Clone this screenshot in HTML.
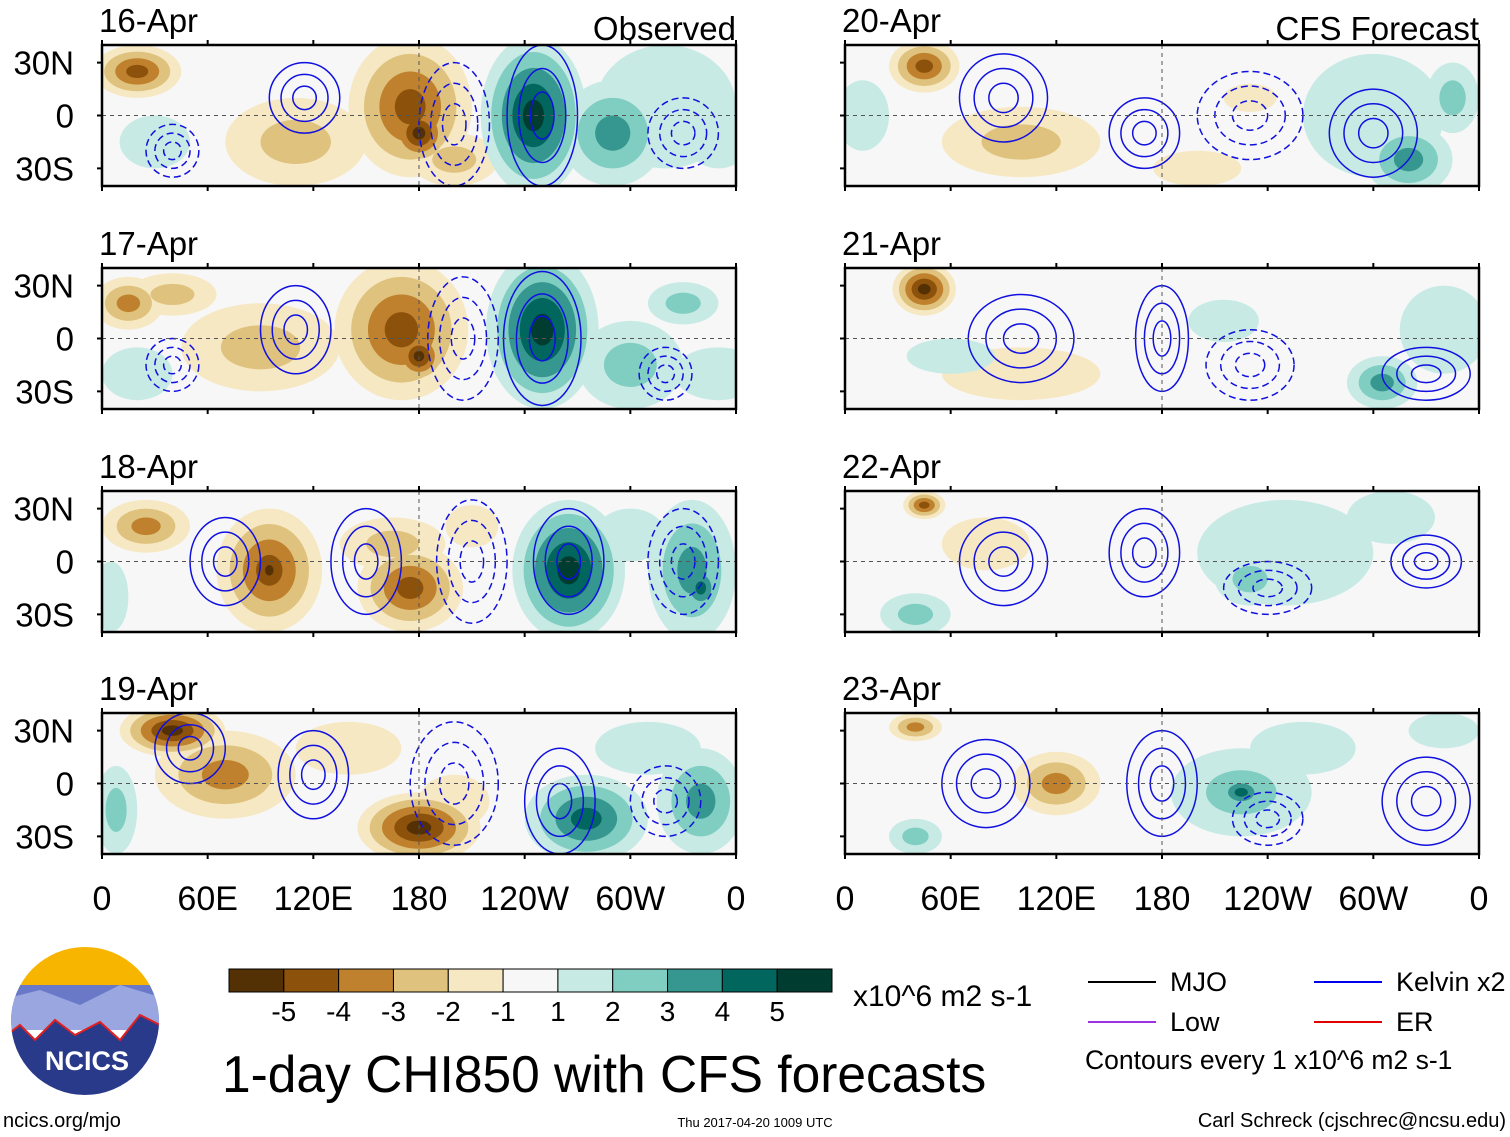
<!DOCTYPE html>
<html><head><meta charset="utf-8">
<style>
body{margin:0;background:#fff;}
svg{display:block;font-family:"Liberation Sans",sans-serif;}
</style></head>
<body>
<svg id="c" width="1510" height="1137" viewBox="0 0 1510 1137">
<g id="panels"></g>
<g id="extras"></g>
</svg>
<script>
const panelTitles = ["16-Apr","17-Apr","18-Apr","19-Apr","20-Apr","21-Apr","22-Apr","23-Apr"];
const lonTicks = ["0","60E","120E","180","120W","60W","0"];
const latTicks = ["30N","0","30S"];
const levelColors = ["#543005","#8c510a","#bf812d","#dfc27d","#f6e8c3","#f7f7f7","#c7eae5","#80cdc1","#35978f","#01665e","#003c30"];
const levelLabels = ["-5","-4","-3","-2","-1","1","2","3","4","5"];
// blobs: [lon, lat, rxDeg, ryDeg, value]
const blobs0 = [[20,25,25,15,-4],[110,-15,40,25,-2],[175,5,35,40,-4],[180,-10,18,18,-5],[200,-25,25,15,-2],[245,0,30,45,5],[290,-10,30,30,3],[320,5,40,35,1],[30,-15,20,15,1],[350,-10,20,20,1]];
const blobs1 = [[15,20,20,15,-3],[40,25,25,12,-2],[90,-5,45,25,-2],[170,5,38,40,-4],[180,-10,15,15,-5],[250,5,32,45,5],[300,-15,30,25,2],[330,20,20,12,2],[20,-20,20,15,1],[350,-20,25,15,1]];
const blobs2 = [[25,20,25,15,-3],[95,-5,30,35,-4],[95,-5,12,15,-5],[175,-15,30,25,-4],[165,10,30,15,-2],[210,20,15,12,-1],[265,-5,32,40,5],[335,-5,25,40,3],[340,-15,12,15,4],[5,-20,10,20,1],[300,15,20,15,1]];
const blobs3 = [[40,30,30,15,-5],[70,5,40,25,-3],[180,-25,35,20,-5],[140,20,30,15,-1],[275,-20,35,25,4],[340,-10,25,30,3],[8,-15,12,25,2],[310,20,30,15,1],[200,-10,20,15,-1]];
const blobs4 = [[45,28,20,15,-4],[100,-15,45,20,-2],[200,-30,25,10,-1],[320,-25,25,20,3],[345,10,15,20,2],[10,0,15,20,1],[230,10,15,8,-1],[300,0,40,35,1]];
const blobs5 = [[45,28,18,15,-5],[100,-20,45,15,-1],[305,-25,20,15,3],[340,5,25,25,1],[215,10,20,12,1],[60,-10,25,10,1]];
const blobs6 = [[45,32,12,8,-4],[80,10,25,15,-1],[250,5,50,30,1],[40,-30,20,12,2],[310,25,25,15,1],[230,-10,20,15,2]];
const blobs7 = [[40,32,15,8,-3],[120,0,25,18,-3],[225,-5,40,25,2],[225,-5,15,10,4],[260,20,30,15,1],[40,-30,15,10,2],[340,30,20,10,1]];
const allBlobs = [blobs0,blobs1,blobs2,blobs3,blobs4,blobs5,blobs6,blobs7];
// contours: [lon, lat, rx, ry, dashed]
const cont0 = [[115,10,20,20,0],[200,-5,20,35,1],[250,0,20,40,0],[330,-10,20,20,1],[40,-20,15,15,1]];
const cont1 = [[110,5,20,25,0],[205,0,20,35,1],[250,0,22,38,0],[320,-20,15,15,1],[40,-15,15,15,1]];
const cont2 = [[70,0,20,25,0],[150,0,20,30,0],[210,0,20,35,1],[265,0,20,30,0],[330,0,20,30,1]];
const cont3 = [[50,20,20,20,0],[120,5,20,25,0],[200,0,25,35,1],[260,-10,20,30,0],[320,-10,20,20,1]];
const cont4 = [[90,10,25,25,0],[170,-10,20,20,0],[230,0,30,25,1],[300,-10,25,25,0]];
const cont5 = [[100,0,30,25,0],[180,0,15,30,0],[230,-15,25,20,1],[330,-20,25,15,0]];
const cont6 = [[90,0,25,25,0],[170,5,20,25,0],[240,-15,25,15,1],[330,0,20,15,0]];
const cont7 = [[80,0,25,25,0],[180,0,20,30,0],[240,-20,20,15,1],[330,-10,25,25,0]];
const allConts = [cont0,cont1,cont2,cont3,cont4,cont5,cont6,cont7];

const NS="http://www.w3.org/2000/svg";
function mk(t,a,p){const e=document.createElementNS(NS,t);for(const k in a)e.setAttribute(k,a[k]);p.appendChild(e);return e;}
const root=document.getElementById('panels');
const W=634,H=141;
const xs=[102,845], ys=[45,268,491,713];
function colorFor(v){return levelColors[v+5];}
for(let p=0;p<8;p++){
  const col=p<4?0:1,row=p%4;
  const x0=xs[col],y0=ys[row];
  const xS=lon=>x0+lon/360*W;
  const yS=lat=>y0+(40-lat)/80*H;
  const g=mk('g',{},root);
  
  
  mk('clipPath',{id:'cp'+p},g);
  mk('rect',{x:x0,y:y0,width:W,height:H},document.getElementById('cp'+p));
  const inner=mk('g',{'clip-path':'url(#cp'+p+')'},g);
  mk('rect',{x:x0,y:y0,width:W,height:H,fill:'#f7f7f7'},inner);
  for(let k=1;k<=5;k++){
    allBlobs[p].forEach(b=>{
      const n=Math.abs(b[4]),s=Math.sign(b[4]);
      if(n<k||s===0)return;
      const f=(n-k+1)/n;
      const e=mk('ellipse',{cx:xS(b[0]),cy:yS(b[1]),rx:b[2]/360*W*f,ry:b[3]/80*H*f,fill:colorFor(s*k)},inner);
      
      
    });
  }
  allConts[p].forEach(c=>{
    for(let k=1;k<=3;k++){
      const f=k/3;
      const e=mk('ellipse',{cx:xS(c[0]),cy:yS(c[1]),rx:c[2]/360*W*f,ry:c[3]/80*H*f,fill:'none',stroke:'#1010e0','stroke-width':1.5,'stroke-dasharray':c[4]?'7 4':'none'},inner);
      
      
    }
  });
  mk('line',{x1:x0,x2:x0+W,y1:yS(0),y2:yS(0),stroke:'#555','stroke-dasharray':'4 4'},inner);
  mk('line',{x1:xS(180),x2:xS(180),y1:y0,y2:y0+H,stroke:'#555','stroke-dasharray':'4 4'},inner);
  mk('rect',{x:x0,y:y0,width:W,height:H,fill:'none',stroke:'#000','stroke-width':2.5},g);
  for(let i=0;i<=6;i++){const x=xS(i*60);mk('line',{x1:x,x2:x,y1:y0-5,y2:y0,stroke:'#000','stroke-width':2},g);mk('line',{x1:x,x2:x,y1:y0+H,y2:y0+H+5,stroke:'#000','stroke-width':2},g);}
  [30,0,-30].forEach((lat,i)=>{
    mk('line',{x1:x0-5,x2:x0,y1:yS(lat),y2:yS(lat),stroke:'#000','stroke-width':2},g);
    if(col===0){const t=mk('text',{x:74,y:yS(lat)+12,'font-size':33,'text-anchor':'end'},g);t.textContent=latTicks[i];
      }
  });
  const t=mk('text',{x:x0-3,y:y0-13,'font-size':33},g);t.textContent=panelTitles[p];
  
  if(row===0){const s=mk('text',{x:x0+W,y:y0-5,'font-size':33,'text-anchor':'end'},g);s.textContent=col?'CFS Forecast':'Observed';
    }
  if(row===3){lonTicks.forEach((l,i)=>{const tt=mk('text',{x:xS(i*60),y:910,'font-size':34,'text-anchor':'middle'},g);tt.textContent=l;
    });}
}
const ex=document.getElementById('extras');
const cbx=229,cbw=603/11;
levelColors.forEach((c,i)=>{const r=mk('rect',{x:cbx+i*cbw,y:969,width:cbw,height:23,fill:c,stroke:'#000','stroke-width':1},ex);
  });
levelLabels.forEach((l,i)=>{const t=mk('text',{x:cbx+(i+1)*cbw,y:1021,'font-size':28,'text-anchor':'middle'},ex);t.textContent=l;
  });
function txt(x,y,s,str,anchor,name){const t=mk('text',{x:x,y:y,'font-size':s,'text-anchor':anchor||'start'},ex);t.textContent=str;
  return t;}
txt(853,1006,30,'x10^6 m2 s-1','start','units-label');
txt(222,1092,51.5,'1-day CHI850 with CFS forecasts','start','chart-title');
txt(1085,1069,26.5,'Contours every 1 x10^6 m2 s-1','start','contour-note');
[[1088,982,'#000','MJO'],[1314,982,'#0000ee','Kelvin x2'],[1088,1022,'#a030e0','Low'],[1314,1022,'#e00000','ER']].forEach(l=>{
  mk('line',{x1:l[0],x2:l[0]+68,y1:l[1],y2:l[1],stroke:l[2],'stroke-width':2},ex);
  txt(l[0]+82,l[1]+9,27,l[3],'start','legend-entry');
});
txt(3,1127,20,'ncics.org/mjo','start','source-url');
txt(755,1127,13,'Thu 2017-04-20 1009 UTC','middle','timestamp');
txt(1506,1127,20,'Carl Schreck (cjschrec@ncsu.edu)','end','author-credit');
const lg=mk('g',{},ex);
mk('clipPath',{id:'lc'},lg);mk('circle',{cx:85,cy:1021,r:74},document.getElementById('lc'));
const li=mk('g',{'clip-path':'url(#lc)'},lg);
mk('rect',{x:0,y:940,width:170,height:50,fill:'#f7b500'},li);
mk('rect',{x:0,y:985,width:170,height:40,fill:'#6a78c8'},li);
mk('path',{d:'M0 1000 L40 990 L80 1005 L120 985 L170 1000 L170 1030 L0 1030Z',fill:'#9aa6e0'},li);
mk('path',{d:'M0 1040 L20 1025 L35 1040 L55 1020 L75 1035 L100 1022 L120 1040 L140 1015 L170 1030 L170 1100 L0 1100Z',fill:'#2a3a8a',stroke:'#e02020','stroke-width':2},li);
const lt=txt(87,1070,27,'NCICS','middle','logo-text');lt.setAttribute('fill','#fff');lt.setAttribute('font-weight','bold');
</script>
</body></html>
